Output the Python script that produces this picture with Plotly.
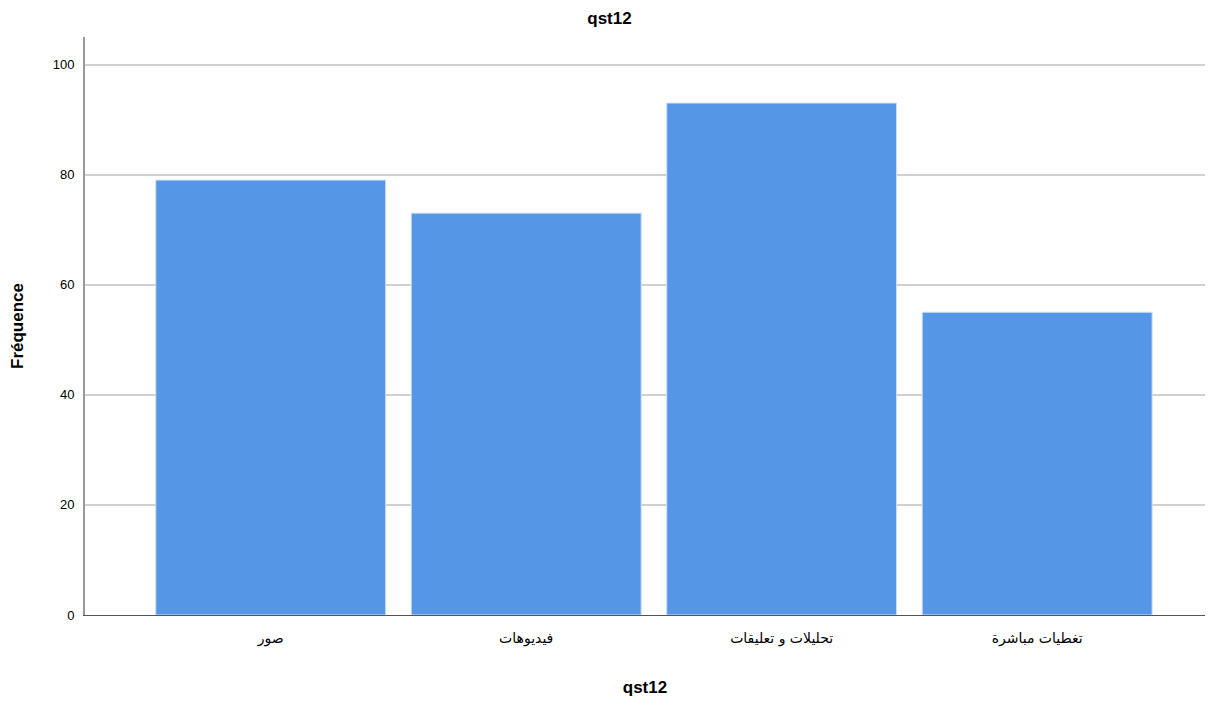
import plotly.graph_objects as go

categories = ["صور", "فيديوهات", "تحليلات و تعليقات", "تغطيات مباشرة"]
frequencies = [79, 73, 93, 55]
y_ticks = [0, 20, 40, 60, 80, 100]

fig = go.Figure(go.Bar(
    x=list(range(len(categories))),
    y=frequencies,
    width=0.9,
    marker=dict(color="#5596e6", line=dict(color="#cfe0f7", width=1)),
))

fig.update_layout(
    width=1219, height=706,
    margin=dict(l=85, r=14, t=37, b=85),
    paper_bgcolor="white", plot_bgcolor="white",
    font=dict(family="Arial, Liberation Sans, sans-serif", color="#000000"),
    title=dict(text="<b>qst12</b>", x=0.5, xanchor="center", y=0.975, yanchor="middle",
               font=dict(size=17)),
    showlegend=False,
    bargap=0.1,
)
fig.update_xaxes(
    tickmode="array", tickvals=list(range(len(categories))), ticktext=categories,
    range=[-0.727, 3.657],
    showline=True, linecolor="#555555", linewidth=1,
    showgrid=False, ticks="", tickfont=dict(size=14, family="DejaVu Sans"),
    ticklabelstandoff=10,
    title=dict(text="<b>qst12</b>", font=dict(size=17), standoff=35),
)
fig.update_yaxes(
    range=[0, 105], tickvals=y_ticks,
    showline=True, linecolor="#999999", linewidth=2,
    showgrid=True, gridcolor="#d0d0d0", gridwidth=2,
    ticks="", tickfont=dict(size=13), ticklabelstandoff=6,
    zeroline=False,
    title=dict(text="<b>Fréquence</b>", font=dict(size=17), standoff=25),
)

fig.write_html("out.html", config={"displayModeBar": False},
               post_script="document.body.style.margin='0';")
